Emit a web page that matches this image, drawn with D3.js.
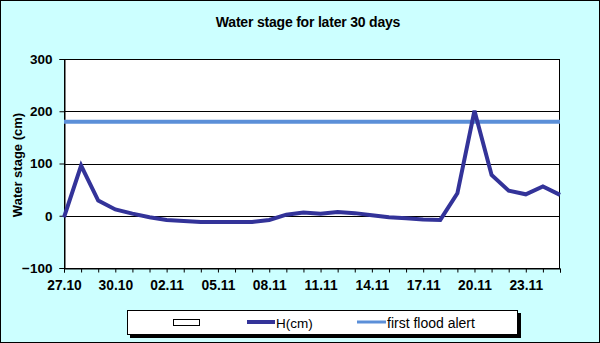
<!DOCTYPE html>
<html><head><meta charset="utf-8">
<script src="https://cdn.jsdelivr.net/npm/d3@7"></script>
<style>body{margin:0;padding:0;background:#fff}svg{display:block;font-family:"Liberation Sans",Arial,sans-serif}</style>
</head><body>
<script>
const dates = ["27.10","28.10","29.10","30.10","31.10","01.11","02.11","03.11","04.11","05.11","06.11","07.11","08.11","09.11","10.11","11.11","12.11","13.11","14.11","15.11","16.11","17.11","18.11","19.11","20.11","21.11","22.11","23.11","24.11","25.11"];
const hValues = [-3,96,29,12,4,-3,-8,-10,-12,-12,-12,-12,-8,2,6,4,7,5,1,-3,-5,-7,-8,43,201,78,48,41,56,40];
const alertValues = dates.map(() => 180);
const yTicks = [-100,0,100,200,300];
const labelEvery = 3;

const W = 600, H = 343;
const FONT = "Liberation Sans, Arial, sans-serif";
const svg = d3.select("body").append("svg").attr("width", W).attr("height", H);
svg.append("rect").attr("x",0.5).attr("y",0.5).attr("width",W-1).attr("height",H-1).attr("fill","#CCFFFF").attr("stroke","#000");

const L = 64, R = 560, T = 59, B = 268;
const x = d3.scalePoint().domain(dates).range([L, R]);
const y = d3.scaleLinear().domain([-100, 300]).range([B, T]);

svg.append("rect").attr("x",L).attr("y",T).attr("width",R-L).attr("height",B-T).attr("fill","#fff");

// gridlines
svg.append("g").selectAll("line").data(yTicks).join("line")
  .attr("x1",L).attr("x2",R).attr("y1",d=>Math.round(y(d))+0.5).attr("y2",d=>Math.round(y(d))+0.5)
  .attr("stroke","#000").attr("stroke-width",1);
svg.append("rect").attr("x",L+0.5).attr("y",T+0.5).attr("width",R-L-1).attr("height",B-T).attr("fill","none").attr("stroke","#000");

// y axis
const yAxis = svg.append("g").attr("transform",`translate(${L+0.5},0)`)
  .call(d3.axisLeft(y).tickValues(yTicks).tickSize(5).tickPadding(7));
yAxis.select(".domain").attr("stroke","#000");
yAxis.selectAll(".tick line").attr("stroke","#000");
yAxis.selectAll("text").attr("font-size",13.5).attr("font-weight","bold").attr("fill","#000").attr("font-family",FONT);

// x axis
const xAxis = svg.append("g").attr("transform",`translate(0,${B+0.5})`)
  .call(d3.axisBottom(x).tickSize(4).tickPadding(8).tickFormat((d,i)=> i % labelEvery === 0 ? d : ""));
xAxis.select(".domain").attr("stroke","#000");
xAxis.selectAll(".tick line").attr("stroke","#000");
xAxis.selectAll("text").attr("font-size",13.8).attr("font-weight","bold").attr("fill","#000").attr("font-family",FONT);

// lines
const line = d3.line().x((d,i)=>x(dates[i])).y(d=>y(d));
svg.append("path").datum(alertValues).attr("d",line).attr("fill","none").attr("stroke","#5B8FD8").attr("stroke-width",4);
svg.append("path").datum(hValues).attr("d",line).attr("fill","none").attr("stroke","#333399").attr("stroke-width",4).attr("stroke-linejoin","miter");

// title
svg.append("text").attr("x",308).attr("y",27).attr("text-anchor","middle").attr("font-size",14).attr("font-weight","bold").attr("letter-spacing","-0.2").text("Water stage for later 30 days");
svg.append("text").attr("transform","translate(21.5,165) rotate(-90)").attr("text-anchor","middle").attr("font-size",13).attr("font-weight","bold").text("Water stage (cm)");

// legend
const lg = svg.append("g");
lg.append("rect").attr("x",130).attr("y",313).attr("width",391).attr("height",25).attr("fill","#000");
lg.append("rect").attr("x",127.5).attr("y",310.5).attr("width",390).attr("height",24).attr("fill","#fff").attr("stroke","#000");
lg.append("rect").attr("x",173.5).attr("y",319.5).attr("width",26).attr("height",6).attr("fill","#fff").attr("stroke","#000");
lg.append("line").attr("x1",247).attr("x2",275).attr("y1",322).attr("y2",322).attr("stroke","#333399").attr("stroke-width",4);
lg.append("text").attr("x",276).attr("y",327.5).attr("font-size",13.5).text("H(cm)");
lg.append("line").attr("x1",357).attr("x2",386).attr("y1",322).attr("y2",322).attr("stroke","#5B8FD8").attr("stroke-width",3);
lg.append("text").attr("x",387).attr("y",327.5).attr("font-size",14).text("first flood alert");
</script>
</body></html>
